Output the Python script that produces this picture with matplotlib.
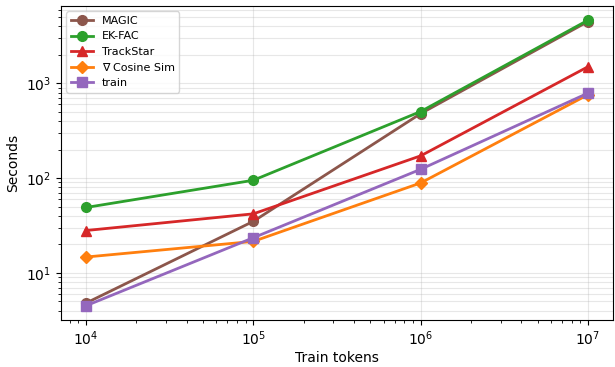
import matplotlib
matplotlib.use("Agg")
import matplotlib.pyplot as plt

# train tokens on the x axis
tokens = [1e4, 1e5, 1e6, 1e7]

# seconds per method
magic = [4.8, 35, 480, 4500]
ekfac = [49, 95, 505, 4650]
trackstar = [28, 42, 172, 1500]
cosine_sim = [14.7, 21.5, 89, 760]
train = [4.5, 23.5, 124, 790]

series = [
    ("MAGIC", magic, "#8c564b", "o"),
    ("EK-FAC", ekfac, "#2ca02c", "o"),
    ("TrackStar", trackstar, "#d62728", "^"),
    ("\u2207 Cosine Sim", cosine_sim, "#ff7f0e", "D"),
    ("train", train, "#9467bd", "s"),
]


def main():
    fig, ax = plt.subplots(figsize=(6.15, 3.67), dpi=100)
    for label, values, color, marker in series:
        ms = 6.5 if marker in ("D", "s") else 7
        ax.plot(tokens, values, marker=marker, color=color, label=label,
                linewidth=2, markersize=ms)
    ax.set_xscale("log")
    ax.set_yscale("log")
    ax.set_xlabel("Train tokens", labelpad=2)
    ax.set_ylabel("Seconds")
    ax.grid(True, which="major", alpha=0.3)
    ax.yaxis.grid(True, which="minor", alpha=0.3)
    ax.legend(loc="upper left", fontsize=8)
    fig.subplots_adjust(left=0.099, right=0.997, top=0.984, bottom=0.128)
    fig.savefig("out.png", dpi=100)


if __name__ == "__main__":
    main()
